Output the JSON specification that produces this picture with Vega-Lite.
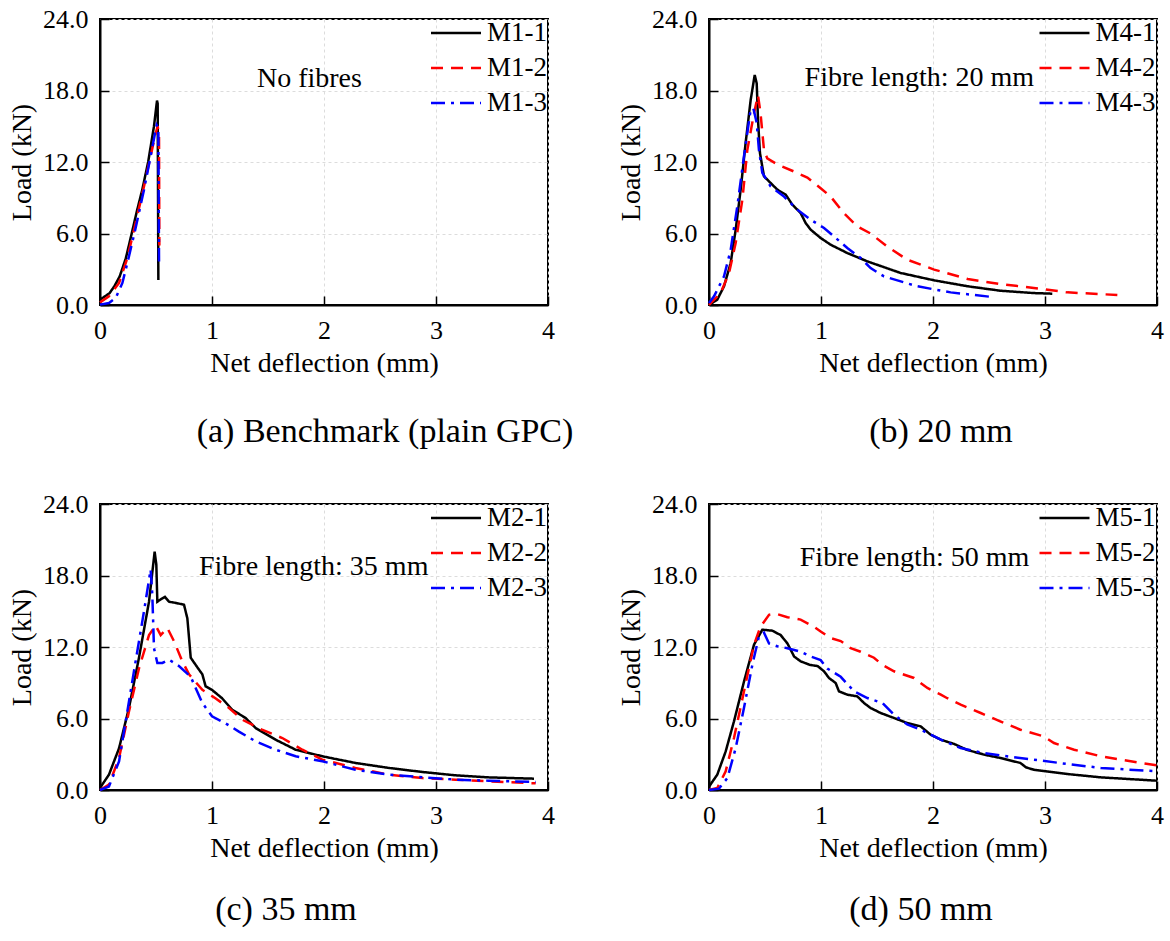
{
  "$schema": "https://vega.github.io/schema/vega-lite/v6.json",
  "padding": {"left": 7, "top": 5, "right": 5, "bottom": 5},
  "background": "white",
  "columns": 2,
  "spacing": {"column": 41, "row": 40},
  "data": {"values": [
    {"p":"a","s":"M1-1","x":0,"y":0.45},{"p":"a","s":"M1-1","x":0.04,"y":0.7},{"p":"a","s":"M1-1","x":0.086,"y":1.0},{"p":"a","s":"M1-1","x":0.13,"y":1.6},{"p":"a","s":"M1-1","x":0.176,"y":2.4},{"p":"a","s":"M1-1","x":0.23,"y":3.9},{"p":"a","s":"M1-1","x":0.283,"y":6.0},{"p":"a","s":"M1-1","x":0.33,"y":7.9},{"p":"a","s":"M1-1","x":0.378,"y":9.7},{"p":"a","s":"M1-1","x":0.43,"y":12.0},{"p":"a","s":"M1-1","x":0.482,"y":15.0},{"p":"a","s":"M1-1","x":0.509,"y":17.15},{"p":"a","s":"M1-1","x":0.515,"y":16.9},{"p":"a","s":"M1-1","x":0.521,"y":2.1},
    {"p":"a","s":"M1-2","x":0,"y":0.22},{"p":"a","s":"M1-2","x":0.08,"y":0.73},{"p":"a","s":"M1-2","x":0.17,"y":1.85},{"p":"a","s":"M1-2","x":0.244,"y":3.94},{"p":"a","s":"M1-2","x":0.318,"y":6.88},{"p":"a","s":"M1-2","x":0.393,"y":9.96},{"p":"a","s":"M1-2","x":0.452,"y":12.5},{"p":"a","s":"M1-2","x":0.497,"y":14.4},{"p":"a","s":"M1-2","x":0.515,"y":15.0},{"p":"a","s":"M1-2","x":0.527,"y":14.1},{"p":"a","s":"M1-2","x":0.53,"y":5.0},
    {"p":"a","s":"M1-3","x":0,"y":0.03},{"p":"a","s":"M1-3","x":0.08,"y":0.17},{"p":"a","s":"M1-3","x":0.14,"y":0.59},{"p":"a","s":"M1-3","x":0.2,"y":1.85},{"p":"a","s":"M1-3","x":0.259,"y":4.1},{"p":"a","s":"M1-3","x":0.318,"y":6.46},{"p":"a","s":"M1-3","x":0.393,"y":9.68},{"p":"a","s":"M1-3","x":0.452,"y":12.5},{"p":"a","s":"M1-3","x":0.491,"y":14.4},{"p":"a","s":"M1-3","x":0.506,"y":15.1},{"p":"a","s":"M1-3","x":0.521,"y":14.85},{"p":"a","s":"M1-3","x":0.527,"y":3.66},

    {"p":"b","s":"M4-1","x":0,"y":0},{"p":"b","s":"M4-1","x":0.074,"y":0.45},{"p":"b","s":"M4-1","x":0.134,"y":1.57},{"p":"b","s":"M4-1","x":0.193,"y":3.5},{"p":"b","s":"M4-1","x":0.238,"y":6.3},{"p":"b","s":"M4-1","x":0.283,"y":9.7},{"p":"b","s":"M4-1","x":0.327,"y":13.6},{"p":"b","s":"M4-1","x":0.372,"y":17.2},{"p":"b","s":"M4-1","x":0.408,"y":19.3},{"p":"b","s":"M4-1","x":0.426,"y":18.6},{"p":"b","s":"M4-1","x":0.4375,"y":15.55},{"p":"b","s":"M4-1","x":0.455,"y":12.75},{"p":"b","s":"M4-1","x":0.491,"y":10.8},{"p":"b","s":"M4-1","x":0.55,"y":10.24},{"p":"b","s":"M4-1","x":0.61,"y":9.68},{"p":"b","s":"M4-1","x":0.685,"y":9.26},{"p":"b","s":"M4-1","x":0.744,"y":8.42},{"p":"b","s":"M4-1","x":0.818,"y":7.72},{"p":"b","s":"M4-1","x":0.863,"y":6.88},{"p":"b","s":"M4-1","x":0.908,"y":6.32},{"p":"b","s":"M4-1","x":0.997,"y":5.62},{"p":"b","s":"M4-1","x":1.086,"y":5.06},{"p":"b","s":"M4-1","x":1.235,"y":4.36},{"p":"b","s":"M4-1","x":1.414,"y":3.66},{"p":"b","s":"M4-1","x":1.71,"y":2.69},{"p":"b","s":"M4-1","x":2.01,"y":2.07},{"p":"b","s":"M4-1","x":2.31,"y":1.57},{"p":"b","s":"M4-1","x":2.6,"y":1.2},{"p":"b","s":"M4-1","x":2.9,"y":1.0},{"p":"b","s":"M4-1","x":3.065,"y":0.95},
    {"p":"b","s":"M4-2","x":0,"y":0},{"p":"b","s":"M4-2","x":0.104,"y":1.0},{"p":"b","s":"M4-2","x":0.179,"y":2.69},{"p":"b","s":"M4-2","x":0.238,"y":5.2},{"p":"b","s":"M4-2","x":0.298,"y":8.84},{"p":"b","s":"M4-2","x":0.342,"y":13.0},{"p":"b","s":"M4-2","x":0.402,"y":16.1},{"p":"b","s":"M4-2","x":0.4375,"y":17.6},{"p":"b","s":"M4-2","x":0.46,"y":16.1},{"p":"b","s":"M4-2","x":0.491,"y":13.0},{"p":"b","s":"M4-2","x":0.52,"y":12.3},{"p":"b","s":"M4-2","x":0.61,"y":11.8},{"p":"b","s":"M4-2","x":0.759,"y":11.2},{"p":"b","s":"M4-2","x":0.878,"y":10.7},{"p":"b","s":"M4-2","x":0.997,"y":9.8},{"p":"b","s":"M4-2","x":1.086,"y":9.1},{"p":"b","s":"M4-2","x":1.205,"y":7.7},{"p":"b","s":"M4-2","x":1.324,"y":6.6},{"p":"b","s":"M4-2","x":1.443,"y":6.0},{"p":"b","s":"M4-2","x":1.592,"y":4.9},{"p":"b","s":"M4-2","x":1.77,"y":3.8},{"p":"b","s":"M4-2","x":2.01,"y":2.97},{"p":"b","s":"M4-2","x":2.31,"y":2.18},{"p":"b","s":"M4-2","x":2.6,"y":1.76},{"p":"b","s":"M4-2","x":2.9,"y":1.43},{"p":"b","s":"M4-2","x":3.2,"y":1.06},{"p":"b","s":"M4-2","x":3.646,"y":0.84},
    {"p":"b","s":"M4-3","x":0,"y":0.17},{"p":"b","s":"M4-3","x":0.045,"y":0.73},{"p":"b","s":"M4-3","x":0.134,"y":2.4},{"p":"b","s":"M4-3","x":0.193,"y":4.6},{"p":"b","s":"M4-3","x":0.253,"y":8.3},{"p":"b","s":"M4-3","x":0.3125,"y":12.5},{"p":"b","s":"M4-3","x":0.372,"y":16.4},{"p":"b","s":"M4-3","x":0.396,"y":16.5},{"p":"b","s":"M4-3","x":0.426,"y":15.3},{"p":"b","s":"M4-3","x":0.446,"y":13.0},{"p":"b","s":"M4-3","x":0.476,"y":11.1},{"p":"b","s":"M4-3","x":0.55,"y":9.96},{"p":"b","s":"M4-3","x":0.67,"y":9.1},{"p":"b","s":"M4-3","x":0.789,"y":8.0},{"p":"b","s":"M4-3","x":0.908,"y":7.16},{"p":"b","s":"M4-3","x":1.027,"y":6.46},{"p":"b","s":"M4-3","x":1.116,"y":5.76},{"p":"b","s":"M4-3","x":1.235,"y":4.78},{"p":"b","s":"M4-3","x":1.354,"y":3.94},{"p":"b","s":"M4-3","x":1.443,"y":3.1},{"p":"b","s":"M4-3","x":1.562,"y":2.4},{"p":"b","s":"M4-3","x":1.86,"y":1.57},{"p":"b","s":"M4-3","x":2.158,"y":1.06},{"p":"b","s":"M4-3","x":2.53,"y":0.67},

    {"p":"c","s":"M2-1","x":0,"y":0.17},{"p":"c","s":"M2-1","x":0.08,"y":1.29},{"p":"c","s":"M2-1","x":0.17,"y":3.5},{"p":"c","s":"M2-1","x":0.259,"y":6.9},{"p":"c","s":"M2-1","x":0.348,"y":11.1},{"p":"c","s":"M2-1","x":0.4375,"y":15.8},{"p":"c","s":"M2-1","x":0.488,"y":20.0},{"p":"c","s":"M2-1","x":0.503,"y":18.9},{"p":"c","s":"M2-1","x":0.512,"y":15.8},{"p":"c","s":"M2-1","x":0.542,"y":16.0},{"p":"c","s":"M2-1","x":0.58,"y":16.2},{"p":"c","s":"M2-1","x":0.616,"y":15.8},{"p":"c","s":"M2-1","x":0.676,"y":15.7},{"p":"c","s":"M2-1","x":0.75,"y":15.55},{"p":"c","s":"M2-1","x":0.78,"y":14.4},{"p":"c","s":"M2-1","x":0.81,"y":11.1},{"p":"c","s":"M2-1","x":0.854,"y":10.5},{"p":"c","s":"M2-1","x":0.914,"y":9.7},{"p":"c","s":"M2-1","x":0.943,"y":8.7},{"p":"c","s":"M2-1","x":1.0,"y":8.4},{"p":"c","s":"M2-1","x":1.09,"y":7.7},{"p":"c","s":"M2-1","x":1.18,"y":6.74},{"p":"c","s":"M2-1","x":1.3,"y":6.04},{"p":"c","s":"M2-1","x":1.39,"y":5.2},{"p":"c","s":"M2-1","x":1.568,"y":4.22},{"p":"c","s":"M2-1","x":1.747,"y":3.38},{"p":"c","s":"M2-1","x":1.985,"y":2.83},{"p":"c","s":"M2-1","x":2.28,"y":2.27},{"p":"c","s":"M2-1","x":2.58,"y":1.85},{"p":"c","s":"M2-1","x":2.88,"y":1.51},{"p":"c","s":"M2-1","x":3.175,"y":1.23},{"p":"c","s":"M2-1","x":3.47,"y":1.06},{"p":"c","s":"M2-1","x":3.875,"y":0.95},
    {"p":"c","s":"M2-2","x":0,"y":0},{"p":"c","s":"M2-2","x":0.08,"y":0.45},{"p":"c","s":"M2-2","x":0.17,"y":2.69},{"p":"c","s":"M2-2","x":0.259,"y":6.6},{"p":"c","s":"M2-2","x":0.348,"y":10.2},{"p":"c","s":"M2-2","x":0.4375,"y":13.0},{"p":"c","s":"M2-2","x":0.497,"y":13.8},{"p":"c","s":"M2-2","x":0.542,"y":13.0},{"p":"c","s":"M2-2","x":0.601,"y":13.6},{"p":"c","s":"M2-2","x":0.66,"y":12.5},{"p":"c","s":"M2-2","x":0.735,"y":10.8},{"p":"c","s":"M2-2","x":0.795,"y":9.7},{"p":"c","s":"M2-2","x":0.914,"y":8.4},{"p":"c","s":"M2-2","x":1.03,"y":7.7},{"p":"c","s":"M2-2","x":1.15,"y":6.9},{"p":"c","s":"M2-2","x":1.27,"y":5.9},{"p":"c","s":"M2-2","x":1.446,"y":5.06},{"p":"c","s":"M2-2","x":1.628,"y":4.36},{"p":"c","s":"M2-2","x":1.807,"y":3.38},{"p":"c","s":"M2-2","x":1.985,"y":2.55},{"p":"c","s":"M2-2","x":2.28,"y":1.85},{"p":"c","s":"M2-2","x":2.58,"y":1.29},{"p":"c","s":"M2-2","x":2.88,"y":1.0},{"p":"c","s":"M2-2","x":3.175,"y":0.87},{"p":"c","s":"M2-2","x":3.47,"y":0.73},{"p":"c","s":"M2-2","x":3.89,"y":0.56},
    {"p":"c","s":"M2-3","x":0,"y":0},{"p":"c","s":"M2-3","x":0.08,"y":0.3},{"p":"c","s":"M2-3","x":0.17,"y":2.4},{"p":"c","s":"M2-3","x":0.244,"y":6.6},{"p":"c","s":"M2-3","x":0.318,"y":10.8},{"p":"c","s":"M2-3","x":0.393,"y":15.0},{"p":"c","s":"M2-3","x":0.452,"y":18.5},{"p":"c","s":"M2-3","x":0.467,"y":16.4},{"p":"c","s":"M2-3","x":0.482,"y":11.9},{"p":"c","s":"M2-3","x":0.512,"y":10.66},{"p":"c","s":"M2-3","x":0.557,"y":10.66},{"p":"c","s":"M2-3","x":0.616,"y":10.94},{"p":"c","s":"M2-3","x":0.705,"y":10.4},{"p":"c","s":"M2-3","x":0.81,"y":9.5},{"p":"c","s":"M2-3","x":0.854,"y":8.56},{"p":"c","s":"M2-3","x":0.914,"y":7.3},{"p":"c","s":"M2-3","x":1.0,"y":6.18},{"p":"c","s":"M2-3","x":1.12,"y":5.6},{"p":"c","s":"M2-3","x":1.24,"y":4.9},{"p":"c","s":"M2-3","x":1.39,"y":4.08},{"p":"c","s":"M2-3","x":1.568,"y":3.38},{"p":"c","s":"M2-3","x":1.747,"y":2.83},{"p":"c","s":"M2-3","x":1.985,"y":2.41},{"p":"c","s":"M2-3","x":2.28,"y":1.7},{"p":"c","s":"M2-3","x":2.58,"y":1.29},{"p":"c","s":"M2-3","x":2.88,"y":1.06},{"p":"c","s":"M2-3","x":3.175,"y":0.87},{"p":"c","s":"M2-3","x":3.47,"y":0.78},{"p":"c","s":"M2-3","x":3.89,"y":0.67},

    {"p":"d","s":"M5-1","x":0,"y":0.28},{"p":"d","s":"M5-1","x":0.074,"y":1.29},{"p":"d","s":"M5-1","x":0.149,"y":3.24},{"p":"d","s":"M5-1","x":0.223,"y":5.76},{"p":"d","s":"M5-1","x":0.3125,"y":9.1},{"p":"d","s":"M5-1","x":0.402,"y":12.2},{"p":"d","s":"M5-1","x":0.476,"y":13.45},{"p":"d","s":"M5-1","x":0.565,"y":13.37},{"p":"d","s":"M5-1","x":0.64,"y":13.0},{"p":"d","s":"M5-1","x":0.7,"y":12.3},{"p":"d","s":"M5-1","x":0.76,"y":11.2},{"p":"d","s":"M5-1","x":0.818,"y":10.8},{"p":"d","s":"M5-1","x":0.9,"y":10.5},{"p":"d","s":"M5-1","x":0.97,"y":10.4},{"p":"d","s":"M5-1","x":1.027,"y":9.96},{"p":"d","s":"M5-1","x":1.071,"y":9.4},{"p":"d","s":"M5-1","x":1.131,"y":8.98},{"p":"d","s":"M5-1","x":1.16,"y":8.28},{"p":"d","s":"M5-1","x":1.235,"y":8.0},{"p":"d","s":"M5-1","x":1.324,"y":7.86},{"p":"d","s":"M5-1","x":1.384,"y":7.3},{"p":"d","s":"M5-1","x":1.443,"y":6.88},{"p":"d","s":"M5-1","x":1.533,"y":6.46},{"p":"d","s":"M5-1","x":1.652,"y":6.04},{"p":"d","s":"M5-1","x":1.77,"y":5.62},{"p":"d","s":"M5-1","x":1.89,"y":5.34},{"p":"d","s":"M5-1","x":1.979,"y":4.64},{"p":"d","s":"M5-1","x":2.07,"y":4.22},{"p":"d","s":"M5-1","x":2.19,"y":3.86},{"p":"d","s":"M5-1","x":2.3,"y":3.38},{"p":"d","s":"M5-1","x":2.455,"y":2.97},{"p":"d","s":"M5-1","x":2.6,"y":2.69},{"p":"d","s":"M5-1","x":2.78,"y":2.27},{"p":"d","s":"M5-1","x":2.83,"y":1.9},{"p":"d","s":"M5-1","x":2.9,"y":1.7},{"p":"d","s":"M5-1","x":3.2,"y":1.34},{"p":"d","s":"M5-1","x":3.5,"y":1.06},{"p":"d","s":"M5-1","x":4.0,"y":0.78},
    {"p":"d","s":"M5-2","x":0,"y":0},{"p":"d","s":"M5-2","x":0.074,"y":0.17},{"p":"d","s":"M5-2","x":0.149,"y":1.57},{"p":"d","s":"M5-2","x":0.223,"y":4.36},{"p":"d","s":"M5-2","x":0.3125,"y":8.28},{"p":"d","s":"M5-2","x":0.402,"y":12.2},{"p":"d","s":"M5-2","x":0.46,"y":13.7},{"p":"d","s":"M5-2","x":0.536,"y":14.7},{"p":"d","s":"M5-2","x":0.595,"y":14.8},{"p":"d","s":"M5-2","x":0.7,"y":14.5},{"p":"d","s":"M5-2","x":0.818,"y":14.3},{"p":"d","s":"M5-2","x":0.9375,"y":13.7},{"p":"d","s":"M5-2","x":0.997,"y":13.3},{"p":"d","s":"M5-2","x":1.086,"y":12.75},{"p":"d","s":"M5-2","x":1.176,"y":12.5},{"p":"d","s":"M5-2","x":1.265,"y":11.9},{"p":"d","s":"M5-2","x":1.354,"y":11.6},{"p":"d","s":"M5-2","x":1.473,"y":11.1},{"p":"d","s":"M5-2","x":1.548,"y":10.5},{"p":"d","s":"M5-2","x":1.652,"y":9.96},{"p":"d","s":"M5-2","x":1.83,"y":9.4},{"p":"d","s":"M5-2","x":1.95,"y":8.56},{"p":"d","s":"M5-2","x":2.07,"y":8.0},{"p":"d","s":"M5-2","x":2.128,"y":7.7},{"p":"d","s":"M5-2","x":2.247,"y":7.16},{"p":"d","s":"M5-2","x":2.426,"y":6.46},{"p":"d","s":"M5-2","x":2.6,"y":5.76},{"p":"d","s":"M5-2","x":2.78,"y":5.06},{"p":"d","s":"M5-2","x":2.99,"y":4.5},{"p":"d","s":"M5-2","x":3.08,"y":3.94},{"p":"d","s":"M5-2","x":3.26,"y":3.38},{"p":"d","s":"M5-2","x":3.5,"y":2.83},{"p":"d","s":"M5-2","x":3.765,"y":2.41},{"p":"d","s":"M5-2","x":4.0,"y":2.07},
    {"p":"d","s":"M5-3","x":0,"y":0},{"p":"d","s":"M5-3","x":0.089,"y":0.11},{"p":"d","s":"M5-3","x":0.164,"y":1.0},{"p":"d","s":"M5-3","x":0.238,"y":3.5},{"p":"d","s":"M5-3","x":0.3125,"y":6.9},{"p":"d","s":"M5-3","x":0.387,"y":10.5},{"p":"d","s":"M5-3","x":0.446,"y":12.9},{"p":"d","s":"M5-3","x":0.491,"y":13.2},{"p":"d","s":"M5-3","x":0.536,"y":12.3},{"p":"d","s":"M5-3","x":0.61,"y":12.06},{"p":"d","s":"M5-3","x":0.7,"y":11.9},{"p":"d","s":"M5-3","x":0.818,"y":11.6},{"p":"d","s":"M5-3","x":0.908,"y":11.2},{"p":"d","s":"M5-3","x":0.997,"y":10.9},{"p":"d","s":"M5-3","x":1.056,"y":10.2},{"p":"d","s":"M5-3","x":1.176,"y":9.5},{"p":"d","s":"M5-3","x":1.295,"y":8.28},{"p":"d","s":"M5-3","x":1.414,"y":7.72},{"p":"d","s":"M5-3","x":1.548,"y":7.3},{"p":"d","s":"M5-3","x":1.652,"y":6.32},{"p":"d","s":"M5-3","x":1.77,"y":5.5},{"p":"d","s":"M5-3","x":1.89,"y":5.06},{"p":"d","s":"M5-3","x":2.07,"y":4.22},{"p":"d","s":"M5-3","x":2.247,"y":3.52},{"p":"d","s":"M5-3","x":2.455,"y":3.1},{"p":"d","s":"M5-3","x":2.66,"y":2.83},{"p":"d","s":"M5-3","x":2.9,"y":2.55},{"p":"d","s":"M5-3","x":3.2,"y":2.18},{"p":"d","s":"M5-3","x":3.5,"y":1.85},{"p":"d","s":"M5-3","x":4.0,"y":1.57}
  ]},
  "resolve": {"scale": {"color": "independent", "strokeDash": "independent"}, "legend": {"color": "independent", "strokeDash": "independent"}},
  "concat": [
    {
      "width": 448, "height": 286,
      "title": {"text": "(a) Benchmark (plain GPC)", "dx": 61},
      "layer": [
        {
          "transform": [{"filter": "datum.p === 'a'"}],
          "mark": {"type": "line", "strokeWidth": 2.5},
          "encoding": {
            "x": {"field": "x", "type": "quantitative", "title": "Net deflection (mm)", "scale": {"domain": [0, 4], "nice": false}, "axis": {"values": [0, 1, 2, 3, 4], "format": "d"}},
            "y": {"field": "y", "type": "quantitative", "title": "Load (kN)", "scale": {"domain": [0, 24], "nice": false}, "axis": {"values": [0, 6, 12, 18, 24], "format": ".1f"}},
            "color": {"field": "s", "type": "nominal", "scale": {"range": ["#000000", "#ff0000", "#0000ff"]}, "legend": {"title": null, "orient": "none", "legendX": 342, "legendY": 0}},
            "strokeDash": {"field": "s", "type": "nominal", "scale": {"range": [[1, 0], [12, 8], [14, 6, 3, 6]]}, "legend": {"title": null, "orient": "none", "legendX": 342, "legendY": 0}}
          }
        },
        {
          "data": {"values": [{"t": "No fibres"}]},
          "mark": {"type": "text", "fontSize": 28, "align": "center", "baseline": "alphabetic", "color": "black"},
          "encoding": {"x": {"datum": 1.87, "type": "quantitative"}, "y": {"datum": 18.3, "type": "quantitative"}, "text": {"field": "t"}}
        }
      ]
    },
    {
      "width": 448, "height": 286,
      "title": {"text": "(b) 20 mm", "dx": 8},
      "layer": [
        {
          "transform": [{"filter": "datum.p === 'b'"}],
          "mark": {"type": "line", "strokeWidth": 2.5},
          "encoding": {
            "x": {"field": "x", "type": "quantitative", "title": "Net deflection (mm)", "scale": {"domain": [0, 4], "nice": false}, "axis": {"values": [0, 1, 2, 3, 4], "format": "d"}},
            "y": {"field": "y", "type": "quantitative", "title": "Load (kN)", "scale": {"domain": [0, 24], "nice": false}, "axis": {"values": [0, 6, 12, 18, 24], "format": ".1f"}},
            "color": {"field": "s", "type": "nominal", "scale": {"range": ["#000000", "#ff0000", "#0000ff"]}, "legend": {"title": null, "orient": "none", "legendX": 341.5, "legendY": 0}},
            "strokeDash": {"field": "s", "type": "nominal", "scale": {"range": [[1, 0], [12, 8], [14, 6, 3, 6]]}, "legend": {"title": null, "orient": "none", "legendX": 341.5, "legendY": 0}}
          }
        },
        {
          "data": {"values": [{"t": "Fibre length: 20 mm"}]},
          "mark": {"type": "text", "fontSize": 28, "align": "center", "baseline": "alphabetic", "color": "black"},
          "encoding": {"x": {"datum": 1.878, "type": "quantitative"}, "y": {"datum": 18.4, "type": "quantitative"}, "text": {"field": "t"}}
        }
      ]
    },
    {
      "width": 448, "height": 286,
      "title": {"text": "(c) 35 mm", "dx": -38, "offset": 31},
      "layer": [
        {
          "transform": [{"filter": "datum.p === 'c'"}],
          "mark": {"type": "line", "strokeWidth": 2.5},
          "encoding": {
            "x": {"field": "x", "type": "quantitative", "title": "Net deflection (mm)", "scale": {"domain": [0, 4], "nice": false}, "axis": {"values": [0, 1, 2, 3, 4], "format": "d"}},
            "y": {"field": "y", "type": "quantitative", "title": "Load (kN)", "scale": {"domain": [0, 24], "nice": false}, "axis": {"values": [0, 6, 12, 18, 24], "format": ".1f"}},
            "color": {"field": "s", "type": "nominal", "scale": {"range": ["#000000", "#ff0000", "#0000ff"]}, "legend": {"title": null, "orient": "none", "legendX": 342, "legendY": 0}},
            "strokeDash": {"field": "s", "type": "nominal", "scale": {"range": [[1, 0], [12, 8], [14, 6, 3, 6]]}, "legend": {"title": null, "orient": "none", "legendX": 342, "legendY": 0}}
          }
        },
        {
          "data": {"values": [{"t": "Fibre length: 35 mm"}]},
          "mark": {"type": "text", "fontSize": 28, "align": "center", "baseline": "alphabetic", "color": "black"},
          "encoding": {"x": {"datum": 1.908, "type": "quantitative"}, "y": {"datum": 18.07, "type": "quantitative"}, "text": {"field": "t"}}
        }
      ]
    },
    {
      "width": 448, "height": 286,
      "title": {"text": "(d) 50 mm", "dx": -12, "offset": 31},
      "layer": [
        {
          "transform": [{"filter": "datum.p === 'd'"}],
          "mark": {"type": "line", "strokeWidth": 2.5},
          "encoding": {
            "x": {"field": "x", "type": "quantitative", "title": "Net deflection (mm)", "scale": {"domain": [0, 4], "nice": false}, "axis": {"values": [0, 1, 2, 3, 4], "format": "d"}},
            "y": {"field": "y", "type": "quantitative", "title": "Load (kN)", "scale": {"domain": [0, 24], "nice": false}, "axis": {"values": [0, 6, 12, 18, 24], "format": ".1f"}},
            "color": {"field": "s", "type": "nominal", "scale": {"range": ["#000000", "#ff0000", "#0000ff"]}, "legend": {"title": null, "orient": "none", "legendX": 341.5, "legendY": 0}},
            "strokeDash": {"field": "s", "type": "nominal", "scale": {"range": [[1, 0], [12, 8], [14, 6, 3, 6]]}, "legend": {"title": null, "orient": "none", "legendX": 341.5, "legendY": 0}}
          }
        },
        {
          "data": {"values": [{"t": "Fibre length: 50 mm"}]},
          "mark": {"type": "text", "fontSize": 28, "align": "center", "baseline": "alphabetic", "color": "black"},
          "encoding": {"x": {"datum": 1.835, "type": "quantitative"}, "y": {"datum": 18.76, "type": "quantitative"}, "text": {"field": "t"}}
        }
      ]
    }
  ],
  "config": {
    "font": "Times New Roman, Liberation Serif, DejaVu Serif, serif",
    "text": {"font": "Times New Roman, Liberation Serif, DejaVu Serif, serif"},
    "view": {"stroke": "black", "strokeWidth": 2},
    "axis": {
      "labelFont": "Times New Roman, Liberation Serif, DejaVu Serif, serif", "labelFontSize": 26, "labelColor": "black",
      "titleFont": "Times New Roman, Liberation Serif, DejaVu Serif, serif", "titleFontSize": 28, "titleFontWeight": "normal", "titleColor": "black",
      "domainColor": "black", "domainWidth": 2,
      "tickColor": "black", "tickWidth": 1.5, "tickSize": -9,
      "labelPadding": 21, "labelFlush": false,
      "gridColor": "#dcdcdc", "gridDash": [3, 3], "gridWidth": 1
    },
    "axisX": {"titlePadding": 6},
    "axisY": {"titlePadding": 6},
    "legend": {
      "padding": 0,
      "labelFont": "Times New Roman, Liberation Serif, DejaVu Serif, serif", "labelFontSize": 27, "labelColor": "black",
      "symbolType": "M-2,0H2", "symbolSize": 625, "symbolStrokeWidth": 2.5,
      "rowPadding": 8, "labelOffset": 17
    },
    "title": {
      "orient": "bottom", "anchor": "middle", "frame": "group",
      "font": "Times New Roman, Liberation Serif, DejaVu Serif, serif", "fontSize": 34, "fontWeight": "normal", "color": "black",
      "offset": 38
    }
  }
}
